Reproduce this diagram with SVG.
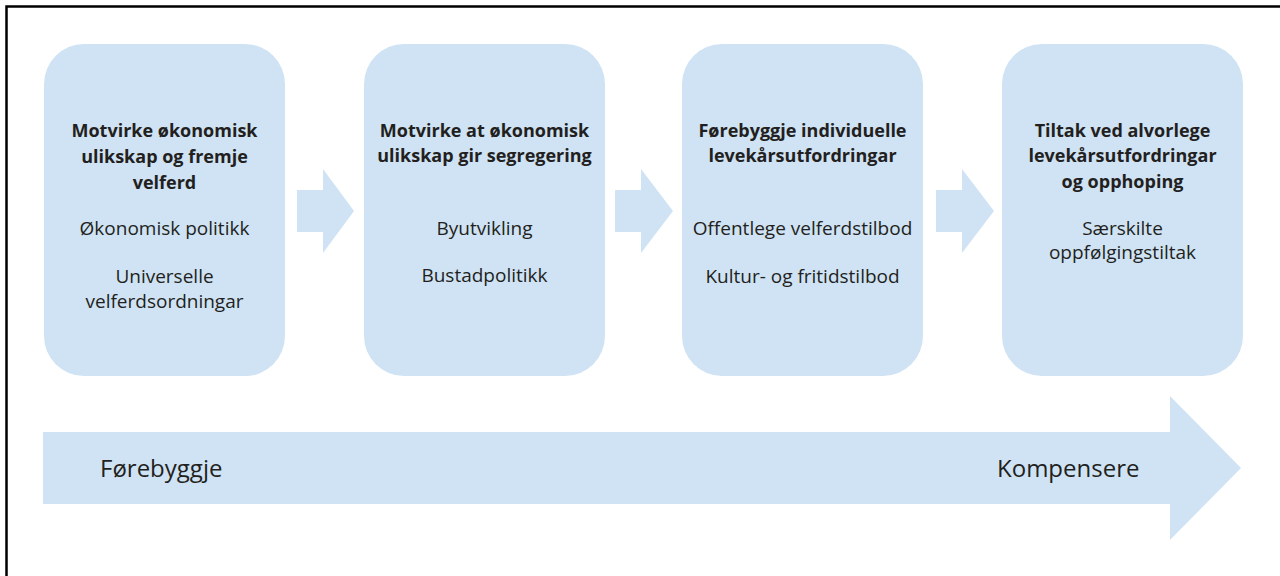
<svg xmlns="http://www.w3.org/2000/svg" width="1280" height="576" viewBox="0 0 1280 576">
<style>
.box{fill:#cfe3f4}
.arr{fill:#cfe3f4}
.t{font-family:"Open Sans","Liberation Sans",sans-serif;fill:#231f20;text-anchor:middle}
.b{font-size:18px;font-weight:700}
.r{font-size:19px}
.big{font-family:"Open Sans","Liberation Sans",sans-serif;fill:#231f20;font-size:24px}
</style>
<rect x="0" y="0" width="1280" height="576" fill="#fff"/>
<path d="M6.5,576 V6.5 H1280" fill="none" stroke="#000" stroke-width="2.5"/>
<g id="connectors">
<polygon class="arr" points="297,190 323,190 323,169 354,211 323,253 323,232 297,232"/>
<polygon class="arr" points="615,190 641,190 641,169 673,211 641,253 641,232 615,232"/>
<polygon class="arr" points="936,190 962,190 962,169 994,211 962,253 962,232 936,232"/>
</g>
<g id="node1">
<rect class="box" x="44" y="44" width="241" height="332" rx="40"/>
<text class="t b" x="164.5" y="137">Motvirke økonomisk</text>
<text class="t b" x="164.5" y="163">ulikskap og fremje</text>
<text class="t b" x="164.5" y="189">velferd</text>
<text class="t r" x="164.5" y="235">Økonomisk politikk</text>
<text class="t r" x="164.5" y="283">Universelle</text>
<text class="t r" x="164.5" y="308">velferdsordningar</text>
</g>
<g id="node2">
<rect class="box" x="364" y="44" width="241" height="332" rx="40"/>
<text class="t b" x="484.5" y="137">Motvirke at økonomisk</text>
<text class="t b" x="484.5" y="162">ulikskap gir segregering</text>
<text class="t r" x="484.5" y="235">Byutvikling</text>
<text class="t r" x="484.5" y="282">Bustadpolitikk</text>
</g>
<g id="node3">
<rect class="box" x="682" y="44" width="241" height="332" rx="40"/>
<text class="t b" x="802.5" y="137">Førebyggje individuelle</text>
<text class="t b" x="802.5" y="162">levekårsutfordringar</text>
<text class="t r" x="802.5" y="235">Offentlege velferdstilbod</text>
<text class="t r" x="802.5" y="283">Kultur- og fritidstilbod</text>
</g>
<g id="node4">
<rect class="box" x="1002" y="44" width="241" height="332" rx="40"/>
<text class="t b" x="1122.5" y="137">Tiltak ved alvorlege</text>
<text class="t b" x="1122.5" y="162">levekårsutfordringar</text>
<text class="t b" x="1122.5" y="188">og opphoping</text>
<text class="t r" x="1122.5" y="235">Særskilte</text>
<text class="t r" x="1122.5" y="259">oppfølgingstiltak</text>
</g>
<g id="bigarrow">
<polygon class="arr" points="43,432 1170,432 1170,396 1241,468 1170,540 1170,504 43,504"/>
<text class="big" x="100" y="477">Førebyggje</text>
<text class="big" x="997" y="477">Kompensere</text>
</g>
</svg>
